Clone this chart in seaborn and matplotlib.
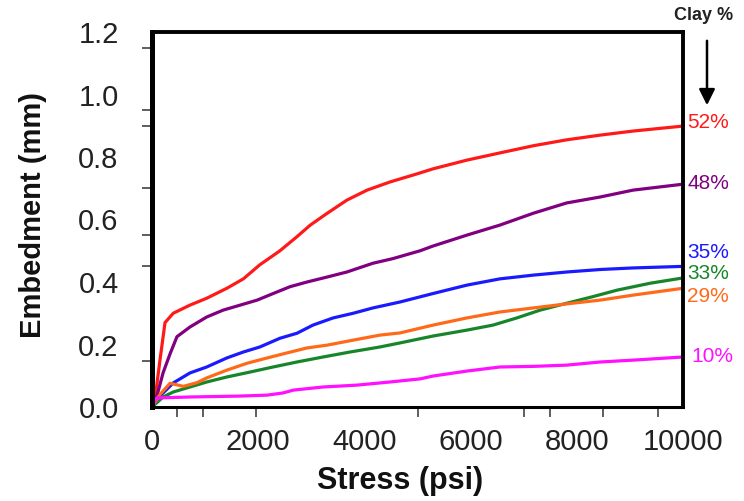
import numpy as np
import pandas as pd
import matplotlib
matplotlib.use("Agg")
import matplotlib.pyplot as plt
import seaborn as sns

# Embedment vs. stress curves, one per clay content
stress_52 = [0, 60, 150, 245, 400, 715, 1030, 1410, 1720, 2030, 2410, 2730, 2980, 3300,
             3670, 4050, 4480, 4990, 5290, 5930, 6550, 7180, 7810, 8440, 9060, 10000]
embed_52 = [0, 0.03, 0.15, 0.27, 0.30, 0.326, 0.348, 0.38, 0.41, 0.455, 0.50, 0.545, 0.582, 0.62,
            0.662, 0.694, 0.72, 0.746, 0.762, 0.79, 0.813, 0.836, 0.855, 0.87, 0.883, 0.899]

stress_48 = [0, 100, 210, 340, 470, 715, 1030, 1340, 1660, 1980, 2280, 2600, 2920, 3300,
             3670, 4160, 4540, 5050, 5290, 5930, 6550, 7180, 7810, 8440, 9060, 10000]
embed_48 = [0, 0.04, 0.11, 0.17, 0.225, 0.256, 0.288, 0.31, 0.326, 0.342, 0.363, 0.385, 0.40, 0.416,
            0.432, 0.46, 0.475, 0.50, 0.515, 0.55, 0.582, 0.62, 0.653, 0.672, 0.694, 0.713]

stress_35 = [0, 150, 400, 715, 1030, 1410, 1720, 2030, 2410, 2730, 3030, 3410, 3790, 4160,
             4670, 5290, 5930, 6550, 7180, 7810, 8440, 9060, 10000]
embed_35 = [0, 0.035, 0.077, 0.109, 0.128, 0.157, 0.176, 0.192, 0.22, 0.236, 0.262, 0.285, 0.30, 0.317,
            0.336, 0.363, 0.39, 0.41, 0.422, 0.432, 0.44, 0.445, 0.45]

stress_33 = [0, 210, 400, 715, 1030, 1410, 1850, 2280, 2730, 3220, 3730, 4290, 4670, 5290,
             5930, 6420, 6870, 7310, 7810, 8300, 8760, 9380, 10000]
embed_33 = [0, 0.032, 0.048, 0.064, 0.08, 0.096, 0.112, 0.128, 0.144, 0.16, 0.176, 0.192, 0.205, 0.227,
            0.246, 0.262, 0.285, 0.31, 0.332, 0.353, 0.374, 0.396, 0.413]

stress_29 = [0, 150, 340, 590, 850, 1030, 1410, 1790, 2170, 2540, 2920, 3300, 3790, 4290,
             4670, 5290, 5930, 6550, 7180, 7810, 8440, 9060, 10000]
embed_29 = [0, 0.04, 0.076, 0.066, 0.078, 0.093, 0.118, 0.14, 0.157, 0.173, 0.189, 0.198, 0.214, 0.23,
            0.237, 0.262, 0.285, 0.304, 0.317, 0.33, 0.342, 0.358, 0.38]

stress_10 = [0, 90, 715, 1660, 2170, 2470, 2660, 3220, 3860, 4480, 5050, 5290, 5930, 6550,
             7180, 7810, 8440, 9060, 10000]
embed_10 = [0, 0.029, 0.032, 0.035, 0.038, 0.045, 0.054, 0.064, 0.07, 0.08, 0.09, 0.099, 0.115, 0.128,
            0.13, 0.134, 0.144, 0.15, 0.16]

clay_labels = ["52%", "48%", "35%", "33%", "29%", "10%"]
colors = ["#ff1a1a", "#800080", "#1a1aff", "#17862a", "#ff6a1a", "#ff10ff"]
label_y = [0.909, 0.714, 0.493, 0.426, 0.352, 0.163]

x_ticks = [0, 2000, 4000, 6000, 8000, 10000]
y_ticks = [0.0, 0.2, 0.4, 0.6, 0.8, 1.0, 1.2]
x_marks = [470, 960, 1960, 5000, 7010, 7500, 8000, 8500, 9530, 10000]
y_marks = [0.0, 0.147, 0.2, 0.45, 0.55, 0.6, 0.7, 0.8, 0.9, 0.95, 1.15]

series = [(stress_52, embed_52), (stress_48, embed_48), (stress_35, embed_35),
          (stress_33, embed_33), (stress_29, embed_29), (stress_10, embed_10)]
frames = []
for lab, (xs, ys) in zip(clay_labels, series):
    frames.append(pd.DataFrame({"stress": xs, "embed": ys, "clay": lab}))
df = pd.concat(frames, ignore_index=True)

sns.set_theme(style="white")
plt.rcParams["font.family"] = ["Liberation Sans", "DejaVu Sans"]

W, H = 744, 501
fig = plt.figure(figsize=(W / 100, H / 100), dpi=100)
ax = fig.add_axes([152 / W, 1 - 407 / H, (683 - 152) / W, (407 - 32) / H])

sns.lineplot(data=df, x="stress", y="embed", hue="clay", hue_order=clay_labels,
             palette=dict(zip(clay_labels, colors)), estimator=None, sort=False,
             linewidth=2.3, legend=False, ax=ax)

ax.set_xlim(0, 10000)
ax.set_ylim(0, 1.2)
ax.set_xticks(x_ticks)
ax.set_xticklabels([str(v) for v in x_ticks])
ax.set_yticks(y_ticks)
ax.set_yticklabels([f"{v:.1f}" for v in y_ticks])
ax.set_xticks(x_marks, minor=True)
ax.set_yticks(y_marks, minor=True)

ax.tick_params(axis="both", which="major", length=0, labelsize=21, colors="#222222")
ax.tick_params(axis="x", which="major", pad=15)
ax.tick_params(axis="y", which="major", pad=24)
ax.tick_params(axis="both", which="minor", length=7.5, width=1.1, color="#333333",
               direction="out", bottom=True, left=True)

for side, lw in [("left", 3.6), ("bottom", 2.2), ("top", 2.8), ("right", 2.8)]:
    ax.spines[side].set_visible(True)
    ax.spines[side].set_color("black")
    ax.spines[side].set_linewidth(lw)

ax.set_xlabel("Stress (psi)", fontsize=22, fontweight="bold", color="#111111")
ax.set_ylabel("Embedment (mm)", fontsize=21, fontweight="bold", color="#111111",
              va="center", ha="center")
ax.xaxis.set_label_coords((400 - 152) / 531, -(466 - 407) / 375)
ax.yaxis.set_label_coords(-(152 - 33) / 531, (407 - 215) / 375)

for lab, col, yv in zip(clay_labels, colors, label_y):
    ax.annotate(lab, xy=(1.0, yv), xycoords=("axes fraction", "data"),
                xytext=(3 if lab != "10%" else 6, 0), textcoords="offset points",
                ha="left", va="center", fontsize=15, color=col, annotation_clip=False)

fig.text(704 / W, 1 - 15 / H, "Clay %", ha="center", va="center",
         fontsize=13, fontweight="bold", color="#222222")
fig.add_artist(matplotlib.patches.FancyArrowPatch(
    (707 / W, 1 - 38 / H), (707 / W, 1 - 108 / H), transform=fig.transFigure,
    arrowstyle="-|>,head_length=6,head_width=3", mutation_scale=1.6,
    color="black", linewidth=1.8))

fig.savefig("out.png", dpi=100, facecolor="white")
